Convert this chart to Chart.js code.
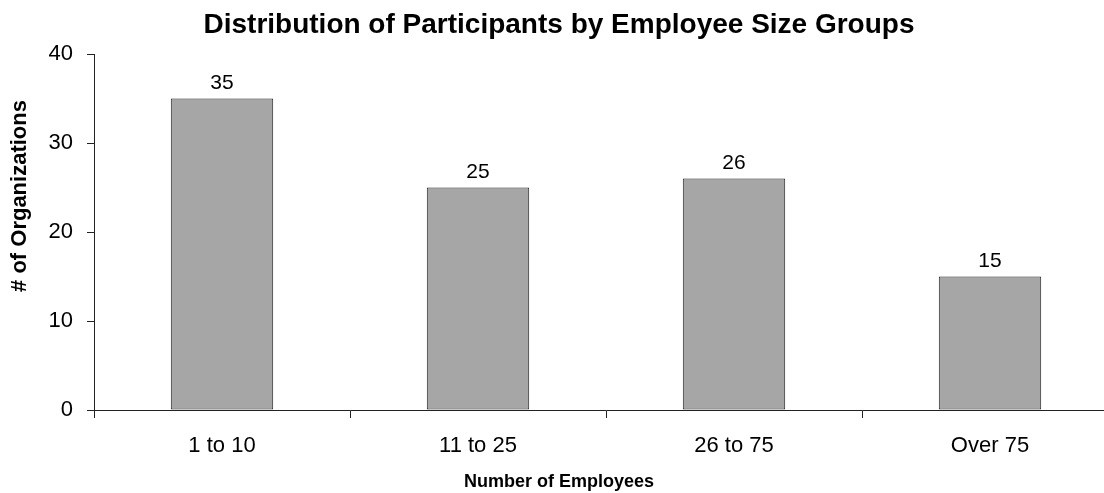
<!DOCTYPE html>
<html>
<head>
<meta charset="utf-8">
<title>Distribution of Participants by Employee Size Groups</title>
<script src="https://cdn.jsdelivr.net/npm/chart.js@4/dist/chart.umd.min.js"></script>
<style>
    html, body { margin: 0; padding: 0; background: #fff; overflow: hidden; }
    #wrap { width: 1128px; height: 493px; }
</style>
</head>
<body>
<div id="wrap"><canvas id="chart" width="1128" height="493"></canvas></div>
<script>
// chart data
const categories = ['1 to 10', '11 to 25', '26 to 75', 'Over 75'];
const organizations = [35, 25, 26, 15];
const yTicks = [0, 10, 20, 30, 40];

const chartTitle = 'Distribution of Participants by Employee Size Groups';
const xTitle = 'Number of Employees';
const yTitle = '# of Organizations';

const FONT = "'Liberation Sans', Arial, Helvetica, sans-serif";
const AXIS = '#222';

// value labels above each bar
const barLabels = {
    id: 'barLabels',
    afterDatasetsDraw(chart) {
        const ctx = chart.ctx;
        const meta = chart.getDatasetMeta(0);
        ctx.save();
        ctx.font = '21px ' + FONT;
        ctx.fillStyle = '#000';
        ctx.textAlign = 'center';
        ctx.textBaseline = 'alphabetic';
        meta.data.forEach((bar, i) => {
            ctx.fillText(String(organizations[i]), bar.x, bar.y - 10);
        });
        ctx.restore();
    }
};

// rotated y axis title (sits a bit above the plot's middle in the original)
const yAxisTitle = {
    id: 'yAxisTitle',
    afterDraw(chart) {
        const ctx = chart.ctx;
        ctx.save();
        ctx.translate(20, 196);
        ctx.rotate(-Math.PI / 2);
        ctx.font = 'bold 22px ' + FONT;
        ctx.fillStyle = '#000';
        ctx.textAlign = 'center';
        ctx.textBaseline = 'middle';
        ctx.fillText(yTitle, 0, 0);
        ctx.restore();
    }
};

new Chart(document.getElementById('chart').getContext('2d'), {
    type: 'bar',
    data: {
        labels: categories,
        datasets: [{
            data: organizations,
            backgroundColor: '#a6a6a6',
            borderColor: '#222',
            borderWidth: 1,
            borderSkipped: false,
            barPercentage: 0.4,
            categoryPercentage: 1
        }]
    },
    options: {
        responsive: false,
        animation: false,
        layout: { padding: { left: 0, right: 10, top: 0, bottom: 0 } },
        plugins: {
            legend: { display: false },
            tooltip: { enabled: false },
            title: {
                display: true,
                text: chartTitle,
                color: '#000',
                font: { family: FONT, size: 28, weight: 'bold', lineHeight: 1.2 },
                padding: { top: 8, bottom: 12.4 }
            },
            subtitle: {
                display: true,
                position: 'bottom',
                text: xTitle,
                color: '#000',
                font: { family: FONT, size: 18, weight: 'bold', lineHeight: 1.2 },
                padding: { top: 0, bottom: 0 }
            }
        },
        scales: {
            x: {
                offset: true,
                grid: {
                    offset: true,
                    drawOnChartArea: false,
                    drawTicks: true,
                    tickLength: 8,
                    color: AXIS
                },
                border: { display: true, color: AXIS, width: 1 },
                ticks: {
                    color: '#000',
                    padding: 15,
                    maxRotation: 0,
                    font: { family: FONT, size: 22 }
                },
                afterFit(scale) { scale.height = 61.4; }
            },
            y: {
                min: yTicks[0],
                max: yTicks[yTicks.length - 1],
                afterBuildTicks(scale) {
                    scale.ticks = yTicks.map(v => ({ value: v }));
                },
                grid: {
                    drawOnChartArea: false,
                    drawTicks: true,
                    tickLength: 7,
                    color: AXIS
                },
                border: { display: true, color: AXIS, width: 1 },
                ticks: {
                    color: '#000',
                    padding: 14,
                    font: { family: FONT, size: 22 }
                },
                title: { display: false },
                afterFit(scale) { scale.width = 94; }
            }
        }
    },
    plugins: [barLabels, yAxisTitle]
});
</script>
</body>
</html>
